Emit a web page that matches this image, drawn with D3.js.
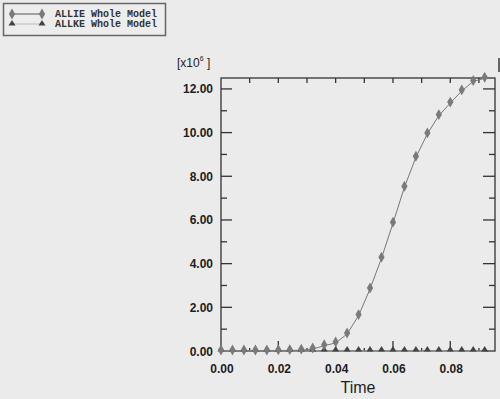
<!DOCTYPE html>
<html>
<head>
<meta charset="utf-8">
<script src="https://cdn.jsdelivr.net/npm/d3@7"></script>
<style>
  body { margin: 0; background: #ebebeb; }
  svg { display: block; }
</style>
</head>
<body>
<svg width="500" height="399"></svg>
<script>
// time steps, every 0.004
var times = [0.000, 0.004, 0.008, 0.012, 0.016, 0.020, 0.024, 0.028, 0.032, 0.036, 0.040, 0.044,
             0.048, 0.052, 0.056, 0.060, 0.064, 0.068, 0.072, 0.076, 0.080, 0.084, 0.088, 0.092];
// ALLIE, in units of 1e6
var allie = [0, 0, 0, 0, 0, 0.01, 0.02, 0.04, 0.09, 0.24, 0.37, 0.78,
             1.62, 2.84, 4.25, 5.85, 7.50, 8.87, 9.94, 10.78, 11.35, 11.91, 12.34, 12.49];
// ALLKE stays ~0 all the way
var allke = [0, 0, 0, 0, 0, 0, 0, 0, 0, 0, 0, 0,
             0, 0, 0, 0, 0, 0, 0, 0, 0, 0, 0, 0];
var seriesNames = ["ALLIE Whole Model", "ALLKE Whole Model"];
var xTicks = [0, 0.02, 0.04, 0.06, 0.08];
var yTicks = [0, 2, 4, 6, 8, 10, 12];

var svg = d3.select("svg");
// note: "top" is taken by window.top, so use other names
var pLeft = 221, pRight = 495, pTop = 78, pBottom = 351;

var x = d3.scaleLinear().domain([0, 0.0956]).range([pLeft, pRight]);
var y = d3.scaleLinear().domain([0, 12.5]).range([pBottom, pTop]);

var axisCol = "#333";

// frame
svg.append("rect")
    .attr("x", pLeft).attr("y", pTop)
    .attr("width", pRight - pLeft).attr("height", pBottom - pTop)
    .attr("fill", "none")
    .attr("stroke", axisCol)
    .attr("stroke-width", 1.3);

// y ticks, inside on both sides
var yMinor = d3.range(1, 13, 2);
svg.append("g").selectAll("line")
    .data(yTicks.filter(d => d > 0))
    .enter().append("line")
    .attr("x1", pLeft).attr("x2", pLeft + 11)
    .attr("y1", d => y(d)).attr("y2", d => y(d))
    .attr("stroke", axisCol).attr("stroke-width", 1.3);
svg.append("g").selectAll("line")
    .data(yMinor)
    .enter().append("line")
    .attr("x1", pLeft).attr("x2", pLeft + 6)
    .attr("y1", d => y(d)).attr("y2", d => y(d))
    .attr("stroke", axisCol).attr("stroke-width", 1.3);
svg.append("g").selectAll("line")
    .data(yTicks.filter(d => d > 0))
    .enter().append("line")
    .attr("x1", pRight - 12).attr("x2", pRight)
    .attr("y1", d => y(d)).attr("y2", d => y(d))
    .attr("stroke", axisCol).attr("stroke-width", 1.3);
svg.append("g").selectAll("line")
    .data(yMinor)
    .enter().append("line")
    .attr("x1", pRight - 6).attr("x2", pRight)
    .attr("y1", d => y(d)).attr("y2", d => y(d))
    .attr("stroke", axisCol).attr("stroke-width", 1.3);

// x ticks: top all short, bottom long on majors
var xAll = d3.range(1, 10).map(d => d * 0.01);
svg.append("g").selectAll("line")
    .data(xAll)
    .enter().append("line")
    .attr("x1", d => x(d)).attr("x2", d => x(d))
    .attr("y1", pTop).attr("y2", pTop + 5)
    .attr("stroke", axisCol).attr("stroke-width", 1.3);
svg.append("g").selectAll("line")
    .data(xAll)
    .enter().append("line")
    .attr("x1", d => x(d)).attr("x2", d => x(d))
    .attr("y1", pBottom)
    .attr("y2", (d, i) => i % 2 == 1 ? pBottom - 10 : pBottom - 3)
    .attr("stroke", axisCol).attr("stroke-width", 1.3);

// tick labels
svg.append("g").selectAll("text")
    .data(yTicks)
    .enter().append("text")
    .attr("x", 213)
    .attr("y", d => y(d) + 4.5)
    .attr("text-anchor", "end")
    .style("font-family", "Liberation Sans, Arial, sans-serif")
    .style("font-size", "12px")
    .style("font-weight", "bold")
    .attr("fill", "#1e1e1e")
    .text(d => d.toFixed(2));

svg.append("g").selectAll("text")
    .data(xTicks)
    .enter().append("text")
    .attr("x", d => x(d) + 1)
    .attr("y", 373)
    .attr("text-anchor", "middle")
    .style("font-family", "Liberation Sans, Arial, sans-serif")
    .style("font-size", "12px")
    .style("font-weight", "bold")
    .attr("fill", "#1e1e1e")
    .text(d => d.toFixed(2));

svg.append("text")
    .attr("x", 358).attr("y", 393)
    .attr("text-anchor", "middle")
    .style("font-family", "Liberation Sans, Arial, sans-serif")
    .style("font-size", "16px")
    .attr("fill", "#1e1e1e")
    .text("Time");

var mult = svg.append("text")
    .attr("x", 177).attr("y", 67)
    .style("font-family", "Liberation Sans, Arial, sans-serif")
    .style("font-size", "12px")
    .attr("fill", "#1e1e1e");
mult.append("tspan").text("[x10");
mult.append("tspan").attr("dy", -6).style("font-size", "7px").text("6");
mult.append("tspan").attr("dy", 6).text(" ]");

// series
var pts = times.map((t, i) => ({t: t, ie: allie[i], ke: allke[i]}));

var line = d3.line().x(d => x(d.t));

svg.append("path")
    .datum(pts)
    .attr("d", line.y(d => y(d.ke)))
    .attr("fill", "none")
    .attr("stroke", "#aaa")
    .attr("stroke-width", 1);

svg.append("path")
    .datum(pts)
    .attr("d", line.y(d => y(d.ie)))
    .attr("fill", "none")
    .attr("stroke", "#777")
    .attr("stroke-width", 1);

var tri = "M0,-5L3.5,0.5L-3.5,0.5Z";
var diamond = d3.symbol().type(d3.symbolDiamond).size(34)();

svg.append("g").selectAll("path")
    .data(pts)
    .enter().append("path")
    .attr("d", tri)
    .attr("transform", d => "translate(" + x(d.t) + "," + y(d.ke) + ")")
    .attr("fill", "#444");

svg.append("g").selectAll("path")
    .data(pts)
    .enter().append("path")
    .attr("d", diamond)
    .attr("transform", d => "translate(" + x(d.t) + "," + (y(d.ie) - 1) + ")")
    .attr("fill", "#7a7a7a");

// legend
var lg = svg.append("g");
lg.append("rect")
    .attr("x", 3.5).attr("y", 3.5)
    .attr("width", 162).attr("height", 32)
    .attr("fill", "#ededed")
    .attr("stroke", "#666")
    .attr("stroke-width", 1.5);
lg.append("line").attr("x1", 12).attr("x2", 42).attr("y1", 14).attr("y2", 14)
    .attr("stroke", "#555").attr("stroke-width", 1);
lg.append("line").attr("x1", 12).attr("x2", 42).attr("y1", 24).attr("y2", 24)
    .attr("stroke", "#bbb").attr("stroke-width", 1);
[12, 42].forEach(function (px) {
    lg.append("path").attr("d", diamond)
        .attr("transform", "translate(" + px + ",14)").attr("fill", "#7a7a7a");
    lg.append("path").attr("d", tri)
        .attr("transform", "translate(" + px + ",25)").attr("fill", "#444");
});
lg.selectAll("text")
    .data(seriesNames)
    .enter().append("text")
    .attr("x", 55)
    .attr("y", (d, i) => 17 + i * 10)
    .style("font-family", "Liberation Mono, Courier New, monospace")
    .style("font-size", "10px")
    .style("font-weight", "bold")
    .attr("fill", "#333")
    .text(d => d);

// sliver of the neighbouring frame at the right edge
svg.append("line")
    .attr("x1", 499).attr("x2", 499).attr("y1", 58).attr("y2", 72)
    .attr("stroke", "#666").attr("stroke-width", 2);
</script>
</body>
</html>
